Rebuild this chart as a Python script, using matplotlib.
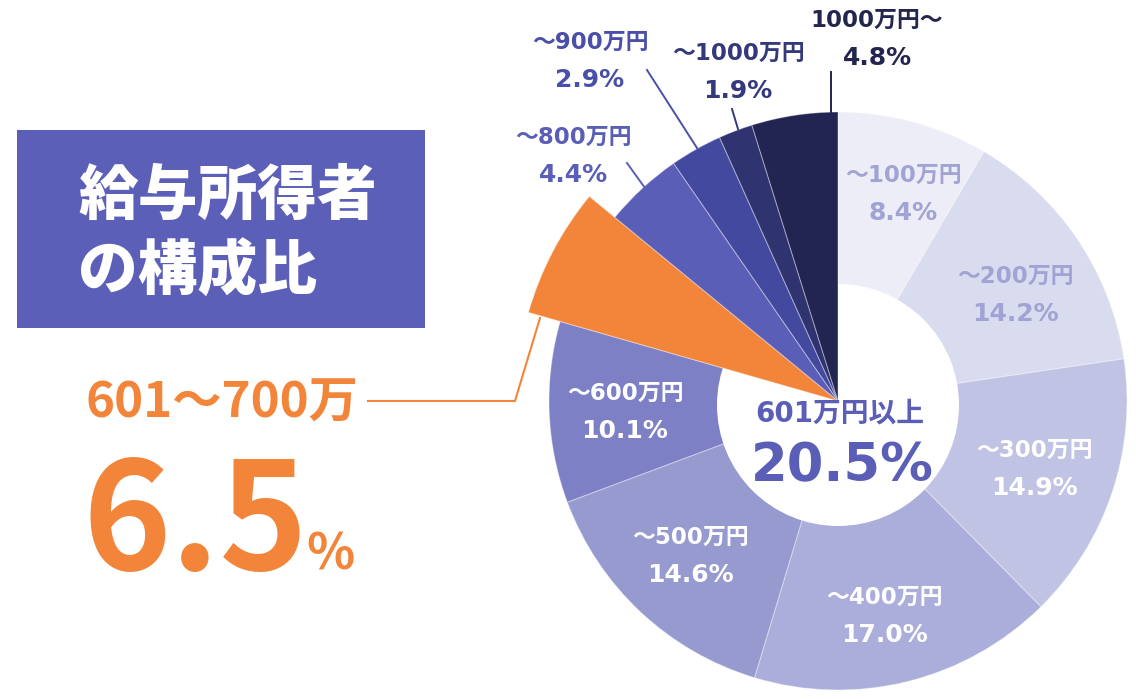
import matplotlib.pyplot as plt
from matplotlib.patches import Circle, Rectangle

plt.rcParams['font.family'] = ['Noto Sans CJK JP', 'DejaVu Sans']
WIDE = ['DejaVu Sans', 'Noto Sans CJK JP']  # Verdana-like digits, CJK fallback

# 給与所得者の構成比 (年収階級別)
categories = ['～100万円', '～200万円', '～300万円', '～400万円', '～500万円', '～600万円',
              '601～700万', '～800万円', '～900万円', '～1000万円', '1000万円～']
values = [8.4, 14.2, 14.9, 17.0, 14.6, 10.1, 6.5, 4.4, 2.9, 1.9, 4.8]
pct_labels = ['8.4%', '14.2%', '14.9%', '17.0%', '14.6%', '10.1%', '6.5%', '4.4%', '2.9%', '1.9%', '4.8%']
over_600_label = '601万円以上'
over_600_value = '20.5%'

colors = ['#ECEDF7', '#D9DBEE', '#C1C3E4', '#ABADDA', '#969ACF', '#7D80C5',
          '#F2853A', '#5A5EB7', '#4449A0', '#2F3370', '#222451']
text_colors = ['#A0A3D4', '#A0A3D4', 'white', 'white', 'white', 'white',
               '#F2853A', '#5A5EB6', '#4A4FA8', '#34387C', '#23254F']

H = 699
def Y(y):
    return H - y

fig = plt.figure(figsize=(11.36, 6.99), dpi=100)
ax = fig.add_axes([0, 0, 1, 1])

cx, cy = 838, 401
wedges, _ = ax.pie(values, colors=colors, startangle=90, counterclock=False,
                   radius=289, center=(cx, Y(cy)),
                   wedgeprops=dict(linewidth=0.8, edgecolor=(1, 1, 1, 0.35)))

# hole, then the 601万円以上 wedges on top of it
ax.add_patch(Circle((cx, Y(405)), 121, facecolor='white', edgecolor='none', zorder=2))
for w in wedges[6:]:
    w.set_zorder(3)
wedges[6].set_radius(322)

# labels (image coords of label centre; None = drawn separately)
label_pos = [(903, 175), (1015, 276), (1034, 450), (884, 597), (690, 537), (625, 393),
             None, (573, 137), (590, 42), (738, 53), (877, 20)]
for i, pos in enumerate(label_pos):
    if pos is None:
        continue
    x, y = pos
    ax.text(x, Y(y), categories[i], ha='center', va='center', fontsize=16.5,
            fontweight='bold', color=text_colors[i], family=WIDE, zorder=5)
    ax.text(x, Y(y + 38), pct_labels[i], ha='center', va='center', fontsize=18,
            fontweight='bold', color=text_colors[i], family=WIDE, zorder=5)

# leader lines
leaders = {7: [(627, 163), (645, 188)], 8: [(647, 70), (697, 148)],
           9: [(732, 109), (738, 129)], 10: [(831, 72), (831, 112)]}
for i, pts in leaders.items():
    ax.plot([p[0] for p in pts], [Y(p[1]) for p in pts], color=text_colors[i], lw=1.4, zorder=4)

# centre text
ax.text(840, Y(413), over_600_label, ha='center', va='center', fontsize=20,
        fontweight='bold', color='#5A5EB6', family=WIDE, zorder=5)
ax.text(842, Y(466), over_600_value, ha='center', va='center', fontsize=38,
        fontweight='bold', color='#5A5EB6', family=WIDE, zorder=5)

# title box
ax.add_patch(Rectangle((17, Y(328)), 408, 198, facecolor='#5B5FB8', edgecolor='none'))
ax.text(78, Y(196), '給与所得者', ha='left', va='center', fontsize=43,
        fontweight='black', color='white')
ax.text(78, Y(272), 'の構成比', ha='left', va='center', fontsize=43,
        fontweight='black', color='white')

# highlighted 601～700万
ax.text(86, Y(403), categories[6], ha='left', va='center', fontsize=35.5,
        fontweight='bold', color='#F2853A')
ax.plot([368, 515, 540], [Y(401), Y(401), Y(318)], color='#F2853A', lw=1.5, zorder=4)
ax.text(82, Y(570), pct_labels[6].rstrip('%'), ha='left', va='baseline', fontsize=108,
        fontweight='bold', color='#F2853A')
ax.text(306, Y(569), '%', ha='left', va='baseline', fontsize=36,
        fontweight='bold', color='#F2853A')

ax.set_xlim(0, 1136)
ax.set_ylim(0, H)
ax.set_aspect('equal')
ax.axis('off')
fig.savefig('out.png', dpi=100)
